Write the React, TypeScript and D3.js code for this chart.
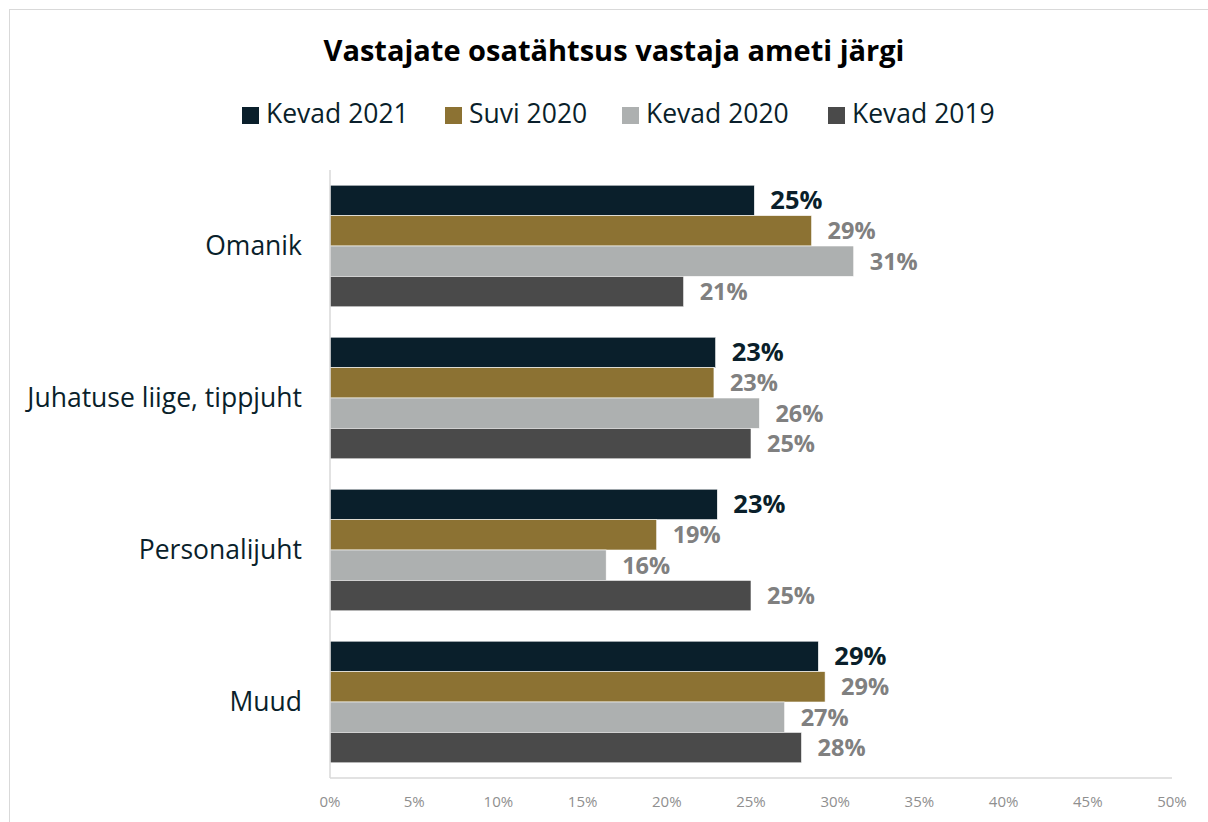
import React from "react";
import * as d3 from "d3";

const categories = ["Omanik", "Juhatuse liige, tippjuht", "Personalijuht", "Muud"];
const seriesNames = ["Kevad 2021", "Suvi 2020", "Kevad 2020", "Kevad 2019"];
const seriesColors = ["#0a1f2b", "#8c7233", "#adb0b0", "#4a4a4a"];
const kevad2021 = [25.2, 22.9, 23.0, 29.0];
const suvi2020 = [28.6, 22.8, 19.4, 29.4];
const kevad2020 = [31.1, 25.5, 16.4, 27.0];
const kevad2019 = [21.0, 25.0, 25.0, 28.0];
const xTicks = [0, 5, 10, 15, 20, 25, 30, 35, 40, 45, 50];

const seriesValues = [kevad2021, suvi2020, kevad2020, kevad2019];

const W = 1208;
const H = 822;
const FONT = "'Open Sans', 'Noto Sans', sans-serif";

export default function App() {
  const left = 330;
  const right = 1172;
  const top = 170;
  const bottom = 778;

  const x = d3.scaleLinear().domain([0, 50]).range([left, right]);
  const y0 = d3.scaleBand<string>().domain(categories).range([top, bottom]).paddingInner(0.2).paddingOuter(0.1);
  const y1 = d3.scaleBand<string>().domain(seriesNames).range([0, y0.bandwidth()]).padding(0);

  const legendX = [242, 445, 622, 828];

  return (
    <div style={{ position: "absolute", left: 0, top: 0 }}>
      <svg width={W} height={H} style={{ display: "block", fontFamily: FONT }}>
        <rect x={0} y={0} width={W} height={H} fill="#ffffff" />
        <rect x={9.5} y={9.5} width={W + 10} height={H + 10} fill="none" stroke="#d9d9d9" strokeWidth={1} />
        <text x={614} y={61} textAnchor="middle" fontSize={29} fontWeight={700} fill="#000000">
          Vastajate osatähtsus vastaja ameti järgi
        </text>
        {seriesNames.map((s, i) => (
          <g key={s}>
            <rect x={legendX[i]} y={107} width={17} height={17} fill={seriesColors[i]} />
            <text x={legendX[i] + 24} y={123} fontSize={26.5} fill="#0a1f2b">
              {s}
            </text>
          </g>
        ))}
        {categories.map((c, ci) => (
          <g key={c}>
            <text
              x={302}
              y={(y0(c) as number) + y0.bandwidth() / 2 + 9}
              textAnchor="end"
              fontSize={26.5}
              fill="#0a1f2b"
            >
              {c}
            </text>
            {seriesNames.map((s, si) => {
              const v = seriesValues[si][ci];
              const yy = (y0(c) as number) + (y1(s) as number);
              return (
                <g key={s}>
                  <rect
                    x={x(0)}
                    y={yy}
                    width={x(v) - x(0)}
                    height={y1.bandwidth()}
                    fill={seriesColors[si]}
                    stroke="#ffffff"
                    strokeWidth={0.6}
                  />
                  <text
                    x={x(v) + 16}
                    y={yy + y1.bandwidth() / 2 + 8.5}
                    fontSize={si === 0 ? 25.5 : 23.5}
                    fontWeight={700}
                    fill={si === 0 ? "#0a1f2b" : "#808080"}
                  >
                    {`${Math.round(v)}%`}
                  </text>
                </g>
              );
            })}
          </g>
        ))}
        <line x1={left} x2={left} y1={top} y2={bottom} stroke="#d9d9d9" strokeWidth={1.5} />
        <line x1={left} x2={right} y1={bottom} y2={bottom} stroke="#d9d9d9" strokeWidth={1.5} />
        {xTicks.map((t) => (
          <text key={t} x={x(t)} y={807} textAnchor="middle" fontSize={15} fill="#8f8f8f">
            {`${t}%`}
          </text>
        ))}
      </svg>
    </div>
  );
}
